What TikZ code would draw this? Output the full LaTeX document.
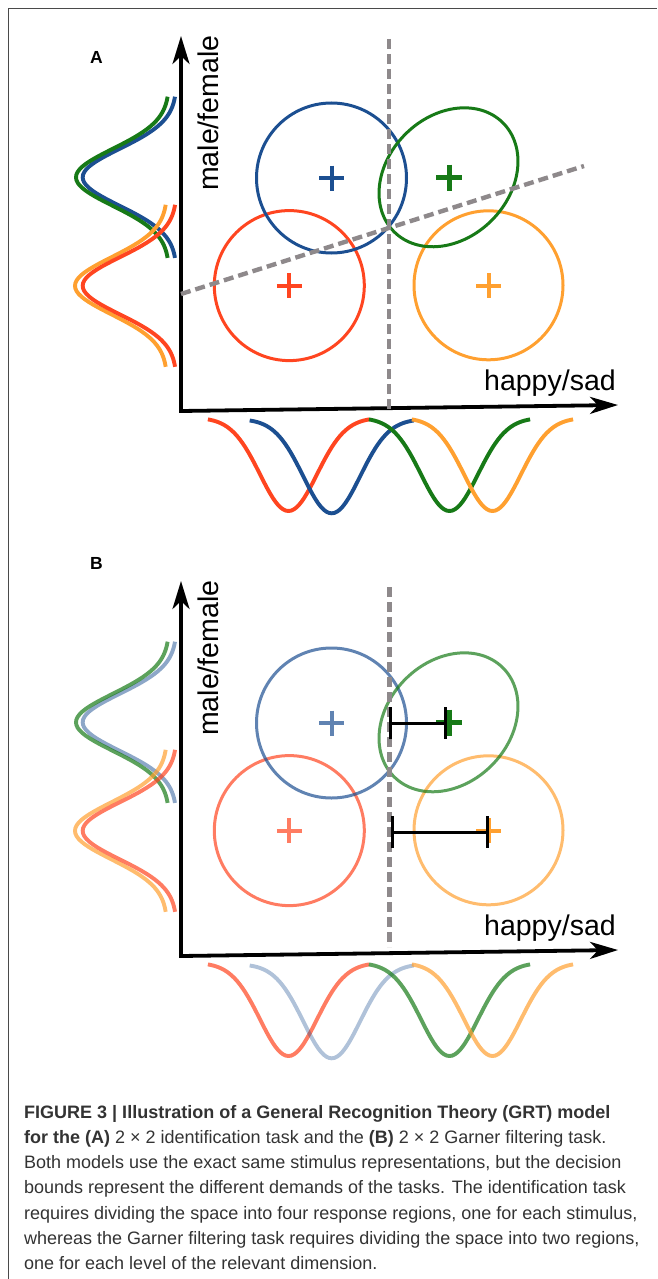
\documentclass[tikz,border=0pt]{standalone}
\usepackage{fontspec}
\setmainfont{Liberation Sans}
\usetikzlibrary{arrows.meta}
\definecolor{grtBlue}  {HTML}{1C4F91}
\definecolor{grtGreen} {HTML}{177A17}
\definecolor{grtRed}   {HTML}{FF4520}
\definecolor{grtOrange}{HTML}{FFA030}
\definecolor{grtBound} {HTML}{8E898B}
\definecolor{grtFrame} {HTML}{4A4A4A}
\definecolor{grtText}  {HTML}{333333}

\begin{document}
\begin{tikzpicture}[x=1pt, y=-1pt,
      axis/.style={line width=3.8pt,
                   {Stealth[length=28pt, width=17pt, inset=8pt]}-{Stealth[length=28pt, width=17pt, inset=8pt]}},
      bound/.style={draw=grtBound, line width=4.4pt, dash pattern=on 10pt off 5pt},
      contour/.style={line width=3pt},
      marginal/.style={line width=3.9pt},
      cross/.style={line width=4pt},
      gapbar/.style={line width=3pt, {Bar[width=32pt]}-{Bar[width=32pt]}},
      axlabel/.style={font=\fontsize{28.5}{30}\selectfont, inner sep=0pt},
      panel/.style={font=\fontsize{17.5}{20}\selectfont\bfseries, inner sep=0pt},
      captext/.style={font=\fontsize{18}{25}\selectfont, text=grtText,
                      anchor=base west, inner sep=0pt}]

    \useasboundingbox (0,0) rectangle (657,1279);
    \draw[grtFrame, line width=1.6pt] (8.5,1279) -- (8.5,8.5) -- (657,8.5);

    \foreach \p/\dy/\ly/\op/\lb/\bb in {A/0/63.6/1/1/1, B/545/569/0.7/0.5/0.35} {
      \node[panel, anchor=base] (lbl\p) at (96.5,\ly) {\p};
      \begin{scope}[shift={(0,\dy)}]
        \coordinate (o\p)    at (181,411);
        \coordinate (ytip\p) at (181,36);
        \coordinate (xtip\p) at (618,405);
        \draw[axis] (ytip\p) -- (o\p) -- (xtip\p);
        \node[axlabel, rotate=90, anchor=base west] (ylab\p) at (218,191) {male/female};
        \node[axlabel, anchor=base west] (xlab\p) at (484,390) {happy/sad};

        \draw[contour, grtRed, opacity=\op]    (289.3,285.6) circle [radius=75pt];
        \draw[contour, grtBlue, opacity=\op]   (331.5,178)   circle [radius=75pt];
        \draw[contour, grtOrange, opacity=\op] (488.5,285.3) circle [radius=74.5pt];
        \draw[contour, grtGreen, opacity=\op, rotate around={45:(448.5,177.3)}]
          (448.5,177.3) ellipse [x radius=77pt, y radius=61pt];

        \draw[cross, grtBlue, opacity=\op]  (331.5,178) +(-12.5,0) -- +(12.5,0) +(0,-12.5) -- +(0,12.5);
        \draw[cross, grtRed, opacity=\op]   (289.3,285.7) +(-12.5,0) -- +(12.5,0) +(0,-12.5) -- +(0,12.5);
        \draw[cross, grtGreen, line width=5pt] (449.3,177.7) +(-13,0) -- +(13,0) +(0,-13) -- +(0,13);
        \draw[cross, grtOrange] (488.5,285.7) +(-12.5,0) -- +(12.5,0) +(0,-12.5) -- +(0,12.5);

        \draw[marginal, grtBlue, opacity=\lb] plot[domain=-80.6:80.6, samples=61]
          ({176.7-94*exp(-((\x)*(\x))/1624.5)}, {177.3+\x});
        \draw[marginal, grtGreen, opacity=\op] plot[domain=-80.6:80.6, samples=61]
          ({169.3-93.3*exp(-((\x)*(\x))/1624.5)}, {177.3+\x});
        \draw[marginal, grtOrange, opacity=\op] plot[domain=-81:81, samples=61]
          ({167.3-92.3*exp(-((\x)*(\x))/1624.5)}, {285.8+\x});
        \draw[marginal, grtRed, opacity=\op] plot[domain=-81:81, samples=61]
          ({176.7-94*exp(-((\x)*(\x))/1624.5)}, {285.8+\x});

        \draw[marginal, grtRed, opacity=\op] plot[domain=-80.6:80.6, samples=61]
          ({288.5+\x}, {417.7+93.3*exp(-((\x)*(\x))/1624.5)});
        \draw[marginal, grtBlue, opacity=\bb] plot[domain=-82:82, samples=61]
          ({331.7+\x}, {419+94.3*exp(-((\x)*(\x))/1624.5)});
        \draw[marginal, grtGreen, opacity=\op] plot[domain=-80.6:80.6, samples=61]
          ({449.5+\x}, {417.7+93.3*exp(-((\x)*(\x))/1624.5)});
        \draw[marginal, grtOrange, opacity=\op] plot[domain=-80.6:80.6, samples=61]
          ({492.5+\x}, {417.7+93.3*exp(-((\x)*(\x))/1624.5)});
      \end{scope}
    }

    \draw[bound] (389,39) -- (389,409);
    \draw[bound] (181,294) -- (584,166);
    \draw[bound] (389.3,587) -- (389.3,947);

    \coordinate (boundG) at (389.3,723.3);
    \coordinate (meanG)  at (447,723.3);
    \coordinate (boundO) at (391,832.3);
    \coordinate (meanO)  at (489,832.3);
    \draw[gapbar] (boundG) -- (meanG);
    \draw[gapbar] (boundO) -- (meanO);

    \node[captext] (cap1) at (24,1118.3) {\textbf{FIGURE 3 | Illustration of a General Recognition Theory (GRT) model}};
    \node[captext] (cap2) at (24,1143.5) {\textbf{for the (A)} 2 × 2 identification task and the \textbf{(B)} 2 × 2 Garner filtering task.};
    \node[captext] (cap3) at (24,1168.7) {Both models use the exact same stimulus representations, but the decision};
    \node[captext] (cap4) at (24,1193.9) {bounds represent the different demands of the tasks. The identification task};
    \node[captext] (cap5) at (24,1219.1) {requires dividing the space into four response regions, one for each stimulus,};
    \node[captext] (cap6) at (24,1244.3) {whereas the Garner filtering task requires dividing the space into two regions,};
    \node[captext] (cap7) at (24,1269.5) {one for each level of the relevant dimension.};
  \end{tikzpicture}
\end{document}
